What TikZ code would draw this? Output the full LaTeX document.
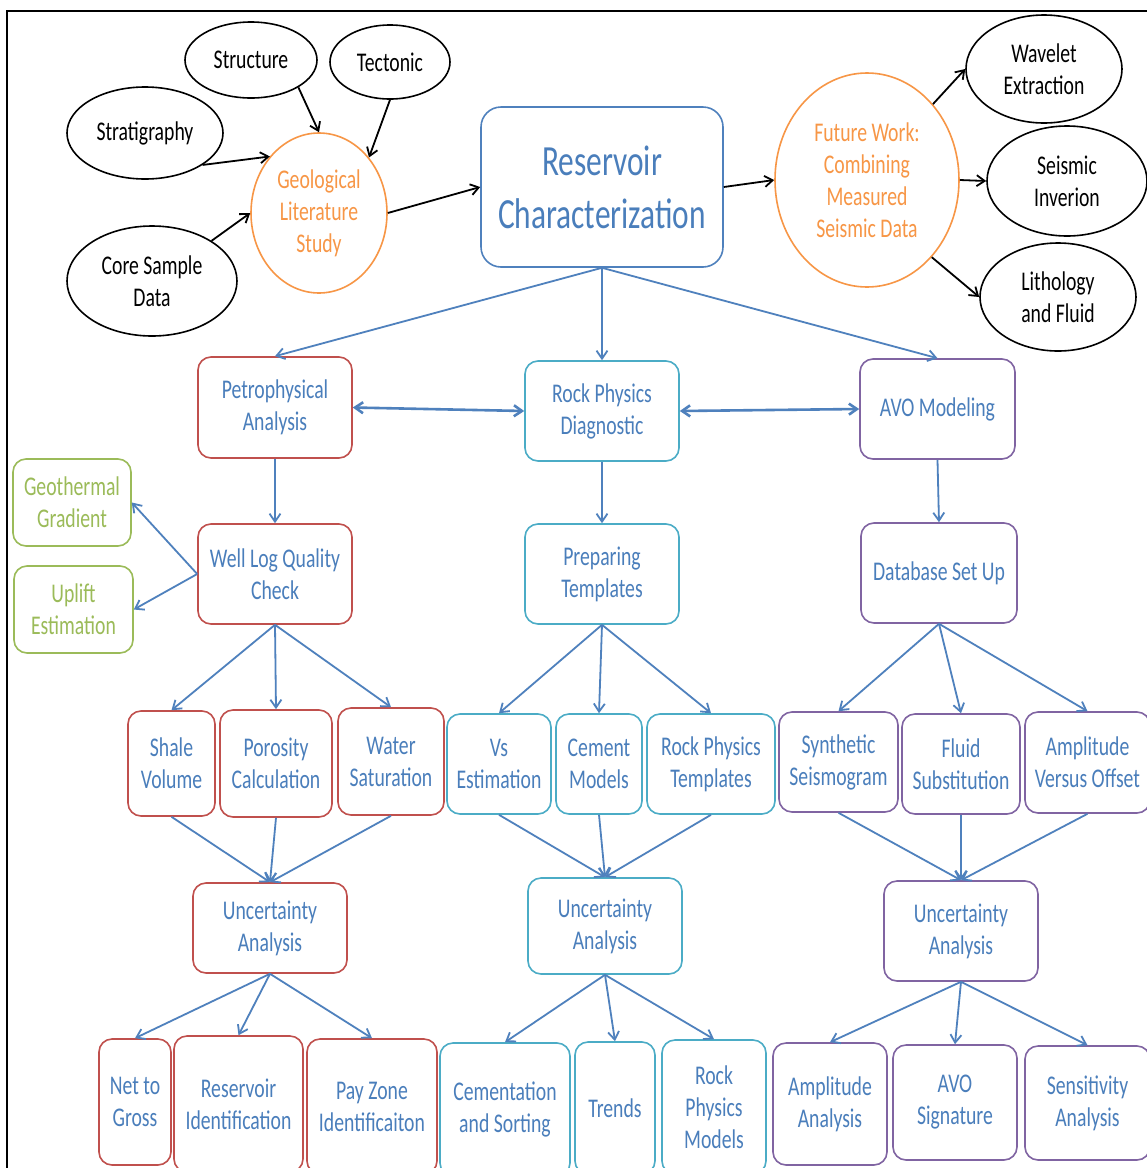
\documentclass[tikz,border=0pt]{standalone}
\usepackage{fontspec}
\setmainfont{Carlito}[FakeStretch=0.73]
\usetikzlibrary{arrows.meta,shapes.geometric}
\definecolor{txtblue}{RGB}{74,126,187}
\definecolor{arrblue}{RGB}{79,129,189}
\definecolor{bred}{RGB}{192,80,77}
\definecolor{bteal}{RGB}{75,172,198}
\definecolor{bpurple}{RGB}{128,100,162}
\definecolor{bgreen}{RGB}{155,187,89}
\definecolor{borange}{RGB}{247,150,70}
\newcommand\fsn{\fontsize{27}{32}\selectfont}
\newcommand\fsb{\fontsize{43}{53}\selectfont}
\newcommand\bx[7]{%
 \pgfmathsetmacro\bxcx{(#3+#5)/2}\pgfmathsetmacro\bxcy{(#4+#6)/2}%
 \pgfmathsetmacro\bxw{#5-#3}\pgfmathsetmacro\bxh{#6-#4}%
 \node[#1, minimum width=\bxw pt, minimum height=\bxh pt] (#2) at (\bxcx,\bxcy) {#7};}
\newcommand\el[7]{%
 \pgfmathsetmacro\elw{2*#4}\pgfmathsetmacro\elh{2*#5}%
 \node[#1, minimum width=\elw pt, minimum height=\elh pt] (#2) at (#3) {#6#7};}
\tikzset{
 box/.style={draw, rounded corners=13pt, line width=1.6pt, align=center, inner sep=0pt, text=txtblue, font=\fsn},
 redbox/.style={box, draw=bred},
 tealbox/.style={box, draw=bteal},
 purbox/.style={box, draw=bpurple},
 greenbox/.style={box, draw=bgreen, text=bgreen},
 resbox/.style={box, draw=arrblue, rounded corners=20pt, font=\fsb},
 blkell/.style={draw=black, ellipse, line width=1.6pt, inner sep=0pt, align=center, font=\fsn, text=black},
 orell/.style={draw=borange, ellipse, line width=1.6pt, inner sep=0pt, align=center, font=\fsn, text=borange},
 karrow/.style={-{Straight Barb[length=8pt,width=11pt]}, line width=1.8pt, draw=black},
 barrow/.style={-{Straight Barb[length=8pt,width=11pt]}, line width=1.8pt, draw=arrblue},
 dbarrow/.style={{Straight Barb[length=8pt,width=11pt]}-{Straight Barb[length=8pt,width=11pt]}, line width=2.6pt, draw=arrblue},
}
\begin{document}
\begin{tikzpicture}[x=1pt,y=-1pt]
\useasboundingbox (0,0) rectangle (1147,1168);
\clip (0,0) rectangle (1147,1168);
\fill[white] (0,0) rectangle (1147,1168);
\draw[line width=2pt, black] (7,1175) -- (7,11) -- (1155,11);

% top black ellipses
\el{blkell}{str}{251,60}{66}{38}{}{Structure}
\el{blkell}{tec}{390,62}{60}{37}{}{Tectonic}
\el{blkell}{strat}{145,133}{78}{46}{}{Stratigraphy}
\el{blkell}{core}{152,281}{85}{55}{}{Core Sample\\Data}
\el{blkell}{wav}{1044,69}{78}{54}{}{Wavelet\\Extraction}
\el{blkell}{seis}{1067,181}{80}{55}{}{Seismic\\Inverion}
\el{blkell}{lith}{1058,297}{78}{54}{}{Lithology\\and Fluid}

% orange
\el{orell}{geo}{319,213}{68}{80}{}{Geological\\Literature\\Study}
\el{orell}{fut}{867,180}{92}{107}{}{Future Work:\\Combining\\Measured\\Seismic Data}

% reservoir
\bx{resbox}{res}{481}{107}{723}{267}{Reservoir\\Characterization}

% row 2
\bx{redbox}{petro}{198}{357}{352}{458}{Petrophysical\\Analysis}
\bx{tealbox}{rpd}{525}{361}{679}{461}{Rock Physics\\Diagnostic}
\bx{purbox}{avo}{860}{359}{1015}{459}{AVO Modeling}

% row 3
\bx{greenbox}{geot}{13}{459}{131}{546}{Geothermal\\Gradient}
\bx{greenbox}{upl}{14}{566}{133}{653}{Uplift\\Estimation}
\bx{redbox}{wlqc}{198}{524}{352}{624}{Well Log Quality\\Check}
\bx{tealbox}{prep}{525}{524}{679}{624}{Preparing\\Templates}
\bx{purbox}{db}{861}{523}{1017}{623}{Database Set Up}

% row 4
\bx{redbox}{shale}{128}{711}{215}{816}{Shale\\Volume}
\bx{redbox}{poro}{220}{710}{332}{817}{Porosity\\Calculation}
\bx{redbox}{water}{338}{708}{444}{815}{Water\\Saturation}
\bx{tealbox}{vs}{447}{714}{551}{814}{Vs\\Estimation}
\bx{tealbox}{cem}{556}{714}{642}{814}{Cement\\Models}
\bx{tealbox}{rpt}{647}{714}{775}{814}{Rock Physics\\Templates}
\bx{purbox}{syn}{779}{712}{898}{812}{Synthetic\\Seismogram}
\bx{purbox}{flu}{902}{714}{1020}{814}{Fluid\\Substitution}
\bx{purbox}{ampo}{1025}{712}{1150}{813}{Amplitude\\Versus Offset}

% row 5
\bx{redbox}{ur}{193}{883}{347}{973}{Uncertainty\\Analysis}
\bx{tealbox}{ut}{528}{878}{682}{974}{Uncertainty\\Analysis}
\bx{purbox}{up}{884}{881}{1038}{981}{Uncertainty\\Analysis}

% row 6
\bx{redbox}{ntg}{99}{1039}{171}{1165}{Net to\\Gross}
\bx{redbox}{resid}{174}{1036}{303}{1172}{Reservoir\\Identification}
\bx{redbox}{pay}{307}{1039}{437}{1174}{Pay Zone\\Identificaiton}
\bx{tealbox}{cems}{440}{1043}{570}{1176}{Cementation\\and Sorting}
\bx{tealbox}{tre}{575}{1042}{655}{1174}{Trends}
\bx{tealbox}{rpm}{662}{1040}{766}{1174}{Rock\\Physics\\Models}
\bx{purbox}{ampa}{773}{1043}{887}{1165}{Amplitude\\Analysis}
\bx{purbox}{avos}{893}{1045}{1017}{1160}{AVO\\Signature}
\bx{purbox}{sens}{1025}{1046}{1150}{1160}{Sensitivity\\Analysis}

% black arrows
\draw[karrow] (str.-30) -- (geo.north);
\draw[karrow] (tec.south) -- (geo.48);
\draw[karrow] (strat.-29) -- (geo.131);
\draw[karrow] (core.34) -- (geo.west);
\draw[karrow] (geo.east) -- (res.west);
\draw[karrow] (res.east) -- (fut.west);
\draw[karrow] (fut.49) -- (wav.west);
\draw[karrow] (fut.east) -- (seis.west);
\draw[karrow] (fut.-50) -- (lith.west);

% blue arrows
\draw[barrow] (res.south) -- (petro.north);
\draw[barrow] (res.south) -- (rpd.north);
\draw[barrow] (res.south) -- (avo.north);
\draw[dbarrow] (petro.east) -- (rpd.west);
\draw[dbarrow] (rpd.east) -- (avo.west);
\draw[barrow] (petro.south) -- (wlqc.north);
\draw[barrow] (rpd.south) -- (prep.north);
\draw[barrow] (avo.south) -- (db.north);
\draw[barrow] (wlqc.west) -- (geot.east);
\draw[barrow] (wlqc.west) -- (upl.east);

\foreach \t in {shale,poro,water} \draw[barrow] (wlqc.south) -- (\t.north);
\foreach \t in {vs,cem,rpt} \draw[barrow] (prep.south) -- (\t.north);
\foreach \t in {syn,flu,ampo} \draw[barrow] (db.south) -- (\t.north);

\foreach \t in {shale,poro,water} \draw[barrow] (\t.south) -- (ur.north);
\foreach \t in {vs,cem,rpt} \draw[barrow] (\t.south) -- (ut.north);
\foreach \t in {syn,flu,ampo} \draw[barrow] (\t.south) -- (up.north);

\foreach \t in {ntg,resid,pay} \draw[barrow] (ur.south) -- (\t.north);
\foreach \t in {cems,tre,rpm} \draw[barrow] (ut.south) -- (\t.north);
\foreach \t in {ampa,avos,sens} \draw[barrow] (up.south) -- (\t.north);
\end{tikzpicture}
\end{document}
